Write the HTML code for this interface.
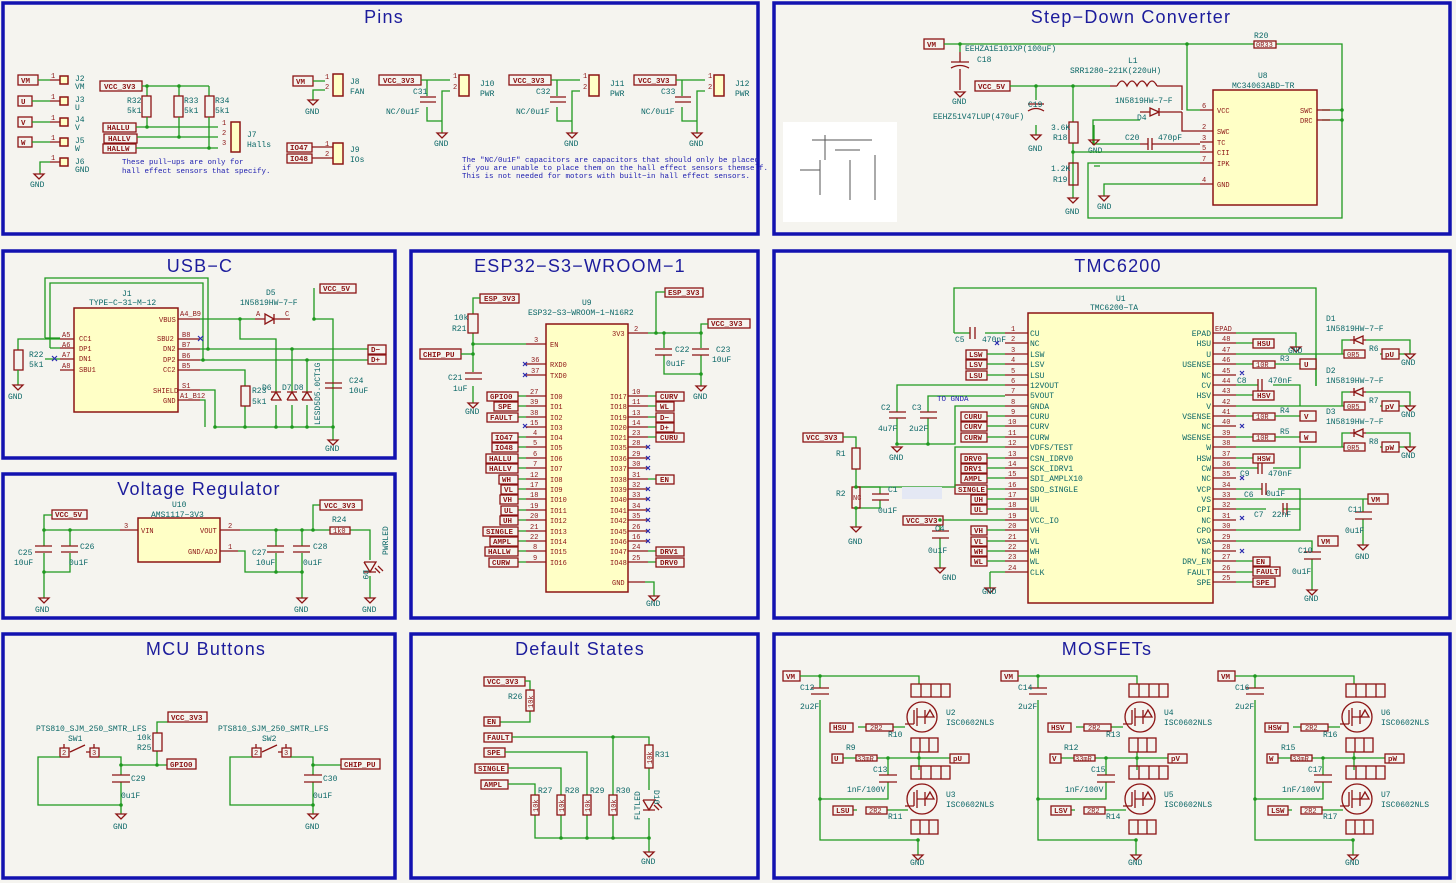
<!DOCTYPE html>
<html><head><meta charset="utf-8"><style>
html,body{margin:0;padding:0;background:#fff}
svg{display:block}
.w{stroke:#1f991f;stroke-width:1.3;fill:none}
.r{stroke:#8c1414;stroke-width:1.3;fill:none}
.y{fill:#ffffc6;stroke:#8c1414;stroke-width:1.5}
.gl{fill:#f5f4ef;stroke:#8c1414;stroke-width:1.3}
.t{fill:#0b6767;font-family:"Liberation Mono",monospace;font-size:8px}
.n{fill:#8c1414;font-family:"Liberation Mono",monospace;font-size:7px}
.l{fill:#8c1414;font-family:"Liberation Mono",monospace;font-size:7.5px;font-weight:bold}
.b{fill:#2020b0;font-family:"Liberation Mono",monospace;font-size:7.5px}
.tt{fill:#1c1c9c;font-family:"Liberation Sans",sans-serif;font-size:18px;letter-spacing:1.2px;text-anchor:middle}
.pn{fill:none;stroke:#1212b0;stroke-width:3.5}
.x{stroke:#2a2ab0;stroke-width:1.2}
.d{fill:#1f991f}
</style></head><body>
<svg width="1456" height="883" viewBox="0 0 1456 883" xmlns="http://www.w3.org/2000/svg">
<rect width="1456" height="883" fill="#f5f4ef"/>
<rect class="pn" x="3" y="3" width="755" height="231"/>
<rect class="pn" x="774" y="3" width="676" height="231"/>
<rect class="pn" x="3" y="251" width="392" height="207"/>
<rect class="pn" x="411" y="251" width="347" height="367"/>
<rect class="pn" x="774" y="251" width="676" height="367"/>
<rect class="pn" x="3" y="474" width="392" height="144"/>
<rect class="pn" x="3" y="634" width="392" height="244"/>
<rect class="pn" x="411" y="634" width="347" height="244"/>
<rect class="pn" x="774" y="634" width="676" height="244"/>
<text class="tt" x="384" y="23">Pins</text>
<text class="tt" x="1131" y="23">Step−Down Converter</text>
<text class="tt" x="200" y="272">USB−C</text>
<text class="tt" x="580" y="272">ESP32−S3−WROOM−1</text>
<text class="tt" x="1118" y="272">TMC6200</text>
<text class="tt" x="199" y="495">Voltage Regulator</text>
<text class="tt" x="206" y="655">MCU Buttons</text>
<text class="tt" x="580" y="655">Default States</text>
<text class="tt" x="1107" y="655">MOSFETs</text>

<g>
<rect class="gl" x="18" y="75" width="20" height="10"/><text class="l" x="21" y="83">VM</text>
<rect class="gl" x="18" y="96" width="14" height="10"/><text class="l" x="21" y="104">U</text>
<rect class="gl" x="18" y="117" width="14" height="10"/><text class="l" x="21" y="125">V</text>
<rect class="gl" x="18" y="137" width="14" height="10"/><text class="l" x="21" y="145">W</text>
<path class="w" d="M38 80H50M32 101H50M32 122H50M32 142H50M40 174V162H50"/>
<path class="r" d="M50 80H60M50 101H60M50 122H60M50 142H60M50 162H60"/>
<rect class="y" x="60" y="76" width="8" height="8"/><rect class="y" x="60" y="97" width="8" height="8"/><rect class="y" x="60" y="118" width="8" height="8"/><rect class="y" x="60" y="138" width="8" height="8"/><rect class="y" x="60" y="158" width="8" height="8"/>
<text class="n" x="51" y="78">1</text><text class="n" x="51" y="99">1</text><text class="n" x="51" y="120">1</text><text class="n" x="51" y="140">1</text><text class="n" x="51" y="160">1</text>
<text class="t" x="75" y="81">J2</text><text class="t" x="75" y="89">VM</text>
<text class="t" x="75" y="102">J3</text><text class="t" x="75" y="110">U</text>
<text class="t" x="75" y="122">J4</text><text class="t" x="75" y="130">V</text>
<text class="t" x="75" y="143">J5</text><text class="t" x="75" y="151">W</text>
<text class="t" x="75" y="164">J6</text><text class="t" x="75" y="172">GND</text>
<path class="r" d="M34 174h10l-5 5z"/><text class="t" x="30" y="187">GND</text>
<rect class="gl" x="100" y="81" width="42" height="10"/><text class="l" x="104" y="89">VCC_3V3</text>
<path class="w" d="M142 86H209M147 86V96M179 86V96M209 86V96"/>
<rect class="r" x="142" y="96" width="9" height="21"/><rect class="r" x="174" y="96" width="9" height="21"/><rect class="r" x="205" y="96" width="9" height="21"/>
<text class="t" x="127" y="103">R32</text><text class="t" x="127" y="113">5k1</text>
<text class="t" x="184" y="103">R33</text><text class="t" x="184" y="113">5k1</text>
<text class="t" x="215" y="103">R34</text><text class="t" x="215" y="113">5k1</text>
<rect class="gl" x="103" y="123" width="33" height="9"/><text class="l" x="107" y="130">HALLU</text>
<rect class="gl" x="104" y="134" width="33" height="9"/><text class="l" x="108" y="141">HALLV</text>
<rect class="gl" x="103" y="144" width="33" height="9"/><text class="l" x="107" y="151">HALLW</text>
<path class="w" d="M136 127H218M137 137H218M136 148H218M147 117V127M179 117V137M209 117V148"/>
<circle class="d" cx="147" cy="127" r="1.8"/><circle class="d" cx="179" cy="137" r="1.8"/><circle class="d" cx="209" cy="148" r="1.8"/>
<circle class="d" cx="147" cy="86" r="1.8"/><circle class="d" cx="179" cy="86" r="1.8"/>
<rect class="y" x="231" y="122" width="9" height="30"/>
<text class="n" x="222" y="125">1</text><text class="n" x="222" y="135">2</text><text class="n" x="222" y="145">3</text>
<text class="t" x="247" y="137">J7</text><text class="t" x="247" y="147">Halls</text>
<text class="b" x="122" y="164">These pull−ups are only for</text>
<text class="b" x="122" y="173">hall effect sensors that specify.</text>
<rect class="gl" x="293" y="76" width="20" height="10"/><text class="l" x="296" y="84">VM</text>
<path class="w" d="M313 81H325M313 100V90H325"/><path class="r" d="M308 100h10l-5 5z"/><text class="t" x="305" y="114">GND</text>
<rect class="y" x="333" y="74" width="10" height="22"/><text class="n" x="325" y="79">1</text><text class="n" x="325" y="89">2</text>
<text class="t" x="350" y="84">J8</text><text class="t" x="350" y="94">FAN</text>
<rect class="gl" x="287" y="143" width="25" height="9"/><text class="l" x="290" y="150">IO47</text>
<rect class="gl" x="287" y="154" width="25" height="9"/><text class="l" x="290" y="161">IO48</text>
<path class="r" d="M312 147H333M312 158H333"/><rect class="y" x="333" y="143" width="10" height="21"/>
<text class="n" x="325" y="146">1</text><text class="n" x="325" y="156">2</text>
<text class="t" x="350" y="152">J9</text><text class="t" x="350" y="162">IOs</text>
<g>
<rect class="gl" x="379" y="75" width="42" height="10"/><text class="l" x="383" y="83">VCC_3V3</text>
<path class="w" d="M421 80H450M427 80V96M427 107V121H442V91H450M442 121V133"/>
<path class="r" d="M420 97h16M420 102h16"/><path class="r" d="M437 133h10l-5 5z"/><text class="t" x="434" y="146">GND</text>
<rect class="y" x="459" y="75" width="10" height="21"/><text class="n" x="453" y="78">1</text><text class="n" x="453" y="89">2</text>
<text class="t" x="413" y="94">C31</text><text class="t" x="386" y="114">NC/0u1F</text>
<text class="t" x="480" y="86">J10</text><text class="t" x="480" y="96">PWR</text>
</g>
<g transform="translate(130,0)">
<rect class="gl" x="379" y="75" width="42" height="10"/><text class="l" x="383" y="83">VCC_3V3</text>
<path class="w" d="M421 80H450M427 80V96M427 107V121H442V91H450M442 121V133"/>
<path class="r" d="M420 97h16M420 102h16"/><path class="r" d="M437 133h10l-5 5z"/><text class="t" x="434" y="146">GND</text>
<rect class="y" x="459" y="75" width="10" height="21"/><text class="n" x="453" y="78">1</text><text class="n" x="453" y="89">2</text>
<text class="t" x="406" y="94">C32</text><text class="t" x="386" y="114">NC/0u1F</text>
<text class="t" x="480" y="86">J11</text><text class="t" x="480" y="96">PWR</text>
</g>
<g transform="translate(255,0)">
<rect class="gl" x="379" y="75" width="42" height="10"/><text class="l" x="383" y="83">VCC_3V3</text>
<path class="w" d="M421 80H450M427 80V96M427 107V121H442V91H450M442 121V133"/>
<path class="r" d="M420 97h16M420 102h16"/><path class="r" d="M437 133h10l-5 5z"/><text class="t" x="434" y="146">GND</text>
<rect class="y" x="459" y="75" width="10" height="21"/><text class="n" x="453" y="78">1</text><text class="n" x="453" y="89">2</text>
<text class="t" x="406" y="94">C33</text><text class="t" x="386" y="114">NC/0u1F</text>
<text class="t" x="480" y="86">J12</text><text class="t" x="480" y="96">PWR</text>
</g>
<text class="b" x="462" y="162">The "NC/0u1F" capacitors are capacitors that should only be placed</text>
<text class="b" x="462" y="170">if you are unable to place them on the hall effect sensors themself.</text>
<text class="b" x="462" y="178">This is not needed for motors with built−in hall effect sensors.</text>
</g>

<g>
<rect class="gl" x="924" y="39" width="20" height="10"/><text class="l" x="927" y="47">VM</text>
<path class="w" d="M944 44H1254M1276 44H1342V218H1088V163H1200M960 44V52M1187 44V110H1200M1342 110H1322M1342 120H1322"/>
<rect class="r" x="1254" y="41" width="22" height="7"/><text class="t" x="1254" y="38">R20</text><text class="n" x="1256" y="47">0R33</text>
<path class="r" d="M951 62h18M951 68q9 -5 18 0M960 52V62M960 69V90"/><path class="r" d="M955 92h10l-5 5z"/>
<text class="t" x="965" y="51">EEHZA1E101XP(100uF)</text><text class="t" x="977" y="62">C18</text><text class="t" x="952" y="104">GND</text>
<rect class="gl" x="975" y="81" width="35" height="10"/><text class="l" x="978" y="89">VCC_5V</text>
<path class="w" d="M1010 86H1110M1036 86V100M1073 86V122M1073 143V163M1073 163V185M1073 185V198M1036 125V135"/>
<path class="r" d="M1110 86H1117M1117 86q5 -10 10 0q5 -10 10 0q5 -10 10 0q5 -10 10 0M1157 86H1182V110"/>
<text class="t" x="1128" y="63">L1</text><text class="t" x="1070" y="73">SRR1280−221K(220uH)</text>
<path class="r" d="M1028 104h16M1028 111q8 -5 16 0"/><text class="t" x="1028" y="107">C19</text><text class="t" x="933" y="119">EEHZ51V47LUP(470uF)</text>
<path class="r" d="M1031 135h10l-5 5z"/><text class="t" x="1028" y="151">GND</text>
<rect class="r" x="1069" y="122" width="9" height="21"/><rect class="r" x="1069" y="163" width="9" height="22"/>
<text class="t" x="1051" y="130">3.6K</text><text class="t" x="1053" y="140">R18</text><text class="t" x="1051" y="171">1.2K</text><text class="t" x="1053" y="182">R19</text>
<path class="r" d="M1068 198h10l-5 5z"/><text class="t" x="1065" y="214">GND</text>
<path class="w" d="M1094 135V144H1140M1094 166H1100M1094 135V132M1094 125V132"/>
<path class="w" d="M1093 145V120H1140M1093 166"/>
<path class="r" d="M1140 112H1150M1150 108v8l9 -4zM1159 108v8M1159 112H1182M1182 112V131H1200M1140 144H1148M1148 138v12M1152 138v12M1152 144H1200M1200 142"/>
<text class="t" x="1115" y="103">1N5819HW−7−F</text><text class="t" x="1137" y="120">D4</text>
<text class="t" x="1125" y="140">C20</text><text class="t" x="1158" y="140">470pF</text>
<path class="r" d="M1089 140h10l-5 5z"/><text class="t" x="1088" y="153">GND</text>
<path class="w" d="M1073 152H1200M1104 196V184H1200"/>
<path class="r" d="M1099 196h10l-5 5z"/><text class="t" x="1097" y="209">GND</text>
<rect class="y" x="1213" y="90" width="104" height="115"/>
<text class="t" x="1258" y="78">U8</text><text class="t" x="1232" y="88">MC34063ABD−TR</text>
<path class="r" d="M1200 110H1213M1200 131H1213M1200 142H1213M1200 152H1213M1200 163H1213M1200 184H1213M1317 110H1330M1317 120H1330"/>
<text class="n" x="1202" y="108">6</text><text class="n" x="1202" y="129">2</text><text class="n" x="1202" y="140">3</text><text class="n" x="1202" y="150">5</text><text class="n" x="1202" y="161">7</text><text class="n" x="1202" y="182">4</text>
<text class="n" x="1217" y="113">VCC</text><text class="n" x="1217" y="134">SWC</text><text class="n" x="1217" y="145">TC</text><text class="n" x="1217" y="155">CII</text><text class="n" x="1217" y="166">IPK</text><text class="n" x="1217" y="187">GND</text>
<text class="n" x="1300" y="113">SWC</text><text class="n" x="1300" y="123">DRC</text>
<circle class="d" cx="960" cy="44" r="1.8"/><circle class="d" cx="1187" cy="44" r="1.8"/><circle class="d" cx="1036" cy="86" r="1.8"/><circle class="d" cx="1073" cy="86" r="1.8"/><circle class="d" cx="1073" cy="152" r="1.8"/><circle class="d" cx="1342" cy="110" r="1.8"/><circle class="d" cx="1342" cy="120" r="1.8"/>
<rect x="783" y="122" width="114" height="100" fill="#fff"/>
<path d="M825 135V160M820 160V195M835 150H860M850 160V200M800 170h20M875 155V200M812 140h60" stroke="#555" stroke-width="1" fill="none"/>
</g>

<g>
<rect class="y" x="74" y="308" width="104" height="104"/>
<text class="t" x="122" y="296">J1</text><text class="t" x="89" y="305">TYPE−C−31−M−12</text>
<path class="w" d="M45 338V278H208V349M50 348V283H203V360M45 338H60M50 348H60M45 359H60"/>
<path class="w" d="M18 350V339H60"/>
<path class="r" d="M60 339H74M60 348H74M60 359H74M60 370H74M178 319H200M178 339H200M178 349H200M178 360H200M178 370H200M178 390H200M178 400H200"/>
<text class="n" x="62" y="337">A5</text><text class="n" x="62" y="347">A6</text><text class="n" x="62" y="357">A7</text><text class="n" x="62" y="368">A8</text>
<text class="n" x="79" y="341">CC1</text><text class="n" x="79" y="351">DP1</text><text class="n" x="79" y="361">DN1</text><text class="n" x="79" y="372">SBU1</text>
<text class="n" x="159" y="322">VBUS</text><text class="n" x="157" y="341">SBU2</text><text class="n" x="163" y="351">DN2</text><text class="n" x="163" y="362">DP2</text><text class="n" x="163" y="372">CC2</text><text class="n" x="153" y="393">SHIELD</text><text class="n" x="163" y="403">GND</text>
<text class="n" x="180" y="316">A4_B9</text><text class="n" x="182" y="337">B8</text><text class="n" x="182" y="347">B7</text><text class="n" x="182" y="358">B6</text><text class="n" x="182" y="368">B5</text><text class="n" x="182" y="388">S1</text><text class="n" x="180" y="398">A1_B12</text>
<path class="x" d="M198 336l5 5M203 336l-5 5M52 356l5 5M57 356l-5 5"/>
<rect class="r" x="14" y="350" width="9" height="20"/><text class="t" x="29" y="357">R22</text><text class="t" x="29" y="367">5k1</text>
<path class="w" d="M18 370V385"/><path class="r" d="M13 385h10l-5 5z"/><text class="t" x="8" y="399">GND</text>
<path class="w" d="M200 319H255M240 319V339H276V392M200 349H368M200 360H368M200 370H245V386M200 390H215V427H333V332M200 400H205V427M292 349V392M307 360V392M276 405V427M292 405V427M307 405V427M245 406V427M314 288V319H333V380M333 387V427M333 427V440"/>
<path class="r" d="M255 319H265M265 314v10l9 -5zM274 314v10M274 319H290"/>
<text class="t" x="266" y="295">D5</text><text class="t" x="240" y="305">1N5819HW−7−F</text><text class="n" x="256" y="316">A</text><text class="n" x="285" y="316">C</text>
<rect class="gl" x="320" y="284" width="36" height="9"/><text class="l" x="323" y="291">VCC_5V</text>
<rect class="gl" x="368" y="345" width="18" height="9"/><text class="l" x="371" y="352">D−</text>
<rect class="gl" x="368" y="355" width="18" height="9"/><text class="l" x="371" y="362">D+</text>
<rect class="r" x="241" y="386" width="9" height="20"/><text class="t" x="252" y="393">R23</text><text class="t" x="252" y="404">5k1</text>
<path class="r" d="M271 392h10M271 400h10l-5 -8-5 8M287 392h10M287 400h10l-5 -8-5 8M302 392h10M302 400h10l-5 -8-5 8"/>
<text class="t" x="262" y="390">D6</text><text class="t" x="282" y="390">D7</text><text class="t" x="294" y="390">D8</text>
<text class="t" transform="translate(320,425) rotate(-90)" x="0" y="0">LESD5D5.0CT1G</text>
<path class="r" d="M325 383h17M325 388h17"/><text class="t" x="349" y="383">C24</text><text class="t" x="349" y="393">10uF</text>
<path class="r" d="M328 440h10l-5 5z"/><text class="t" x="325" y="451">GND</text>
<circle class="d" cx="240" cy="319" r="1.8"/><circle class="d" cx="314" cy="319" r="1.8"/><circle class="d" cx="208" cy="349" r="1.8"/><circle class="d" cx="203" cy="360" r="1.8"/><circle class="d" cx="292" cy="349" r="1.8"/><circle class="d" cx="307" cy="360" r="1.8"/><circle class="d" cx="215" cy="427" r="1.8"/><circle class="d" cx="245" cy="427" r="1.8"/><circle class="d" cx="276" cy="427" r="1.8"/><circle class="d" cx="292" cy="427" r="1.8"/><circle class="d" cx="307" cy="427" r="1.8"/><circle class="d" cx="333" cy="427" r="1.8"/>
</g>

<g>
<rect class="gl" x="52" y="510" width="35" height="9"/><text class="l" x="55" y="517">VCC_5V</text>
<rect class="y" x="138" y="518" width="82" height="44"/>
<text class="t" x="172" y="507">U10</text><text class="t" x="151" y="517">AMS1117−3V3</text>
<path class="w" d="M52 515H44V530H120M44 530V546M44 553V572H70V553M70 530V546M44 572V598M240 530H312M238 551H245V572H302V553M276 530V546M276 553V572M302 530V546M302 553V598M313 530V505H320M313 530H330M350 530H370V560M370 576V598"/>
<path class="r" d="M120 530H138M220 530H240M220 551H238"/>
<text class="n" x="124" y="528">3</text><text class="n" x="228" y="528">2</text><text class="n" x="228" y="549">1</text>
<text class="n" x="141" y="533">VIN</text><text class="n" x="200" y="533">VOUT</text><text class="n" x="188" y="554">GND/ADJ</text>
<path class="r" d="M35 546h17M35 552h17M61 546h17M61 552h17M267 546h17M267 552h17M293 546h17M293 552h17"/>
<text class="t" x="18" y="555">C25</text><text class="t" x="14" y="565">10uF</text><text class="t" x="80" y="549">C26</text><text class="t" x="69" y="565">0u1F</text>
<text class="t" x="252" y="555">C27</text><text class="t" x="256" y="565">10uF</text><text class="t" x="313" y="549">C28</text><text class="t" x="303" y="565">0u1F</text>
<rect class="gl" x="320" y="500" width="42" height="10"/><text class="l" x="324" y="508">VCC_3V3</text>
<rect class="r" x="330" y="527" width="20" height="7"/><text class="t" x="332" y="522">R24</text><text class="n" x="333" y="533">1k0</text>
<path class="r" d="M364 562h12l-6 10-6-10M364 572h12M375 568l5 5M378 566l5 5"/>
<text class="t" transform="translate(388,555) rotate(-90)">PWRLED</text><text class="t" transform="translate(363,570) rotate(90)">D9</text>
<path class="r" d="M39 598h10l-5 5z"/><text class="t" x="35" y="612">GND</text>
<path class="r" d="M297 598h10l-5 5z"/><text class="t" x="294" y="612">GND</text>
<path class="r" d="M365 598h10l-5 5z"/><text class="t" x="362" y="612">GND</text>
<circle class="d" cx="44" cy="530" r="1.8"/><circle class="d" cx="70" cy="530" r="1.8"/><circle class="d" cx="44" cy="572" r="1.8"/><circle class="d" cx="276" cy="530" r="1.8"/><circle class="d" cx="302" cy="530" r="1.8"/><circle class="d" cx="313" cy="530" r="1.8"/><circle class="d" cx="276" cy="572" r="1.8"/><circle class="d" cx="302" cy="572" r="1.8"/>
</g>

<g>
<rect class="y" x="546" y="324" width="82" height="268"/>
<text class="t" x="582" y="305">U9</text><text class="t" x="528" y="315">ESP32−S3−WROOM−1−N16R2</text>
<rect class="gl" x="480" y="294" width="39" height="9"/><text class="l" x="484" y="301">ESP_3V3</text>
<path class="w" d="M480 298H473V314M473 333V344H526M473 344V372M473 386V403"/>
<rect class="r" x="468" y="314" width="10" height="19"/><text class="t" x="454" y="320">10k</text><text class="t" x="452" y="331">R21</text>
<rect class="gl" x="420" y="349" width="41" height="10"/><text class="l" x="423" y="357">CHIP_PU</text>
<path class="w" d="M461 354H473"/>
<path class="r" d="M465 373h17M465 379h17"/><text class="t" x="448" y="380">C21</text><text class="t" x="453" y="391">1uF</text>
<path class="r" d="M468 403h10l-5 5z"/><text class="t" x="465" y="414">GND</text>
<path class="r" d="M526 344H546M526 364H546M526 375H546"/>
<text class="n" x="534" y="342">3</text><text class="n" x="531" y="362">36</text><text class="n" x="531" y="373">37</text>
<text class="n" x="550" y="347">EN</text><text class="n" x="550" y="367">RXD0</text><text class="n" x="550" y="378">TXD0</text>
<path class="x" d="M523 362l4 4M527 362l-4 4M523 373l4 4M527 373l-4 4M523 424l4 4M527 424l-4 4"/>
<path class="w" d="M518 396H526M518 406H526M518 417H526M518 437H526M518 447H526M518 458H526M518 468H526M518 479H526M518 489H526M518 499H526M518 510H526M518 520H526M518 531H526M518 541H526M518 551H526M518 562H526"/>
<path class="r" d="M526 396H546M526 406H546M526 417H546M526 427H546M526 437H546M526 447H546M526 458H546M526 468H546M526 479H546M526 489H546M526 499H546M526 510H546M526 520H546M526 531H546M526 541H546M526 551H546M526 562H546"/>
<rect class="gl" x="487" y="392" width="31" height="9"/><text class="l" x="490" y="399">GPIO0</text>
<rect class="gl" x="494" y="402" width="24" height="9"/><text class="l" x="498" y="409">SPE</text>
<rect class="gl" x="487" y="413" width="31" height="9"/><text class="l" x="490" y="420">FAULT</text>
<rect class="gl" x="492" y="433" width="26" height="9"/><text class="l" x="495" y="440">IO47</text>
<rect class="gl" x="492" y="443" width="26" height="9"/><text class="l" x="495" y="450">IO48</text>
<rect class="gl" x="486" y="454" width="32" height="9"/><text class="l" x="489" y="461">HALLU</text>
<rect class="gl" x="486" y="464" width="32" height="9"/><text class="l" x="489" y="471">HALLV</text>
<rect class="gl" x="499" y="475" width="19" height="9"/><text class="l" x="502" y="482">WH</text>
<rect class="gl" x="501" y="485" width="17" height="9"/><text class="l" x="504" y="492">VL</text>
<rect class="gl" x="500" y="495" width="18" height="9"/><text class="l" x="503" y="502">VH</text>
<rect class="gl" x="501" y="506" width="17" height="9"/><text class="l" x="504" y="513">UL</text>
<rect class="gl" x="500" y="516" width="18" height="9"/><text class="l" x="503" y="523">UH</text>
<rect class="gl" x="483" y="527" width="35" height="9"/><text class="l" x="486" y="534">SINGLE</text>
<rect class="gl" x="490" y="537" width="28" height="9"/><text class="l" x="493" y="544">AMPL</text>
<rect class="gl" x="485" y="547" width="33" height="9"/><text class="l" x="488" y="554">HALLW</text>
<rect class="gl" x="489" y="558" width="29" height="9"/><text class="l" x="492" y="565">CURW</text>
<g class="n">
<text x="530" y="394">27</text><text x="530" y="404">39</text><text x="530" y="415">38</text><text x="530" y="425">15</text><text x="533" y="435">4</text><text x="533" y="445">5</text><text x="533" y="456">6</text><text x="533" y="466">7</text><text x="530" y="477">12</text><text x="530" y="487">17</text><text x="530" y="497">18</text><text x="530" y="508">19</text><text x="530" y="518">20</text><text x="530" y="529">21</text><text x="530" y="539">22</text><text x="533" y="549">8</text><text x="533" y="560">9</text>
</g>
<g class="n" font-size="6">
<text x="550" y="399">IO0</text><text x="550" y="409">IO1</text><text x="550" y="420">IO2</text><text x="550" y="430">IO3</text><text x="550" y="440">IO4</text><text x="550" y="450">IO5</text><text x="550" y="461">IO6</text><text x="550" y="471">IO7</text><text x="550" y="482">IO8</text><text x="550" y="492">IO9</text><text x="550" y="502">IO10</text><text x="550" y="513">IO11</text><text x="550" y="523">IO12</text><text x="550" y="534">IO13</text><text x="550" y="544">IO14</text><text x="550" y="554">IO15</text><text x="550" y="565">IO16</text>
<text x="610" y="399">IO17</text><text x="610" y="409">IO18</text><text x="610" y="420">IO19</text><text x="610" y="430">IO20</text><text x="610" y="440">IO21</text><text x="610" y="450">IO35</text><text x="610" y="461">IO36</text><text x="610" y="471">IO37</text><text x="610" y="482">IO38</text><text x="610" y="492">IO39</text><text x="610" y="502">IO40</text><text x="610" y="513">IO41</text><text x="610" y="523">IO42</text><text x="610" y="534">IO45</text><text x="610" y="544">IO46</text><text x="610" y="554">IO47</text><text x="610" y="565">IO48</text>
<text x="612" y="336">3V3</text><text x="612" y="585">GND</text>
</g>
<path class="r" d="M628 396H648M628 406H648M628 417H648M628 427H648M628 437H648M628 447H648M628 458H648M628 468H648M628 479H648M628 489H648M628 499H648M628 510H648M628 520H648M628 531H648M628 541H648M628 551H648M628 562H648M628 333H648M628 582H645"/>
<path class="w" d="M648 396H656M648 406H656M648 417H656M648 427H656M648 437H656M648 479H656M648 551H656M648 562H656"/>
<g class="n">
<text x="632" y="394">10</text><text x="632" y="404">11</text><text x="632" y="415">13</text><text x="632" y="425">14</text><text x="632" y="435">23</text><text x="632" y="445">28</text><text x="632" y="456">29</text><text x="632" y="466">30</text><text x="632" y="477">31</text><text x="632" y="487">32</text><text x="632" y="497">33</text><text x="632" y="508">34</text><text x="632" y="518">35</text><text x="632" y="529">26</text><text x="632" y="539">16</text><text x="632" y="549">24</text><text x="632" y="560">25</text><text x="634" y="331">2</text>
</g>
<path class="x" d="M646 445l4 4M650 445l-4 4M646 456l4 4M650 456l-4 4M646 466l4 4M650 466l-4 4M646 487l4 4M650 487l-4 4M646 497l4 4M650 497l-4 4M646 508l4 4M650 508l-4 4M646 518l4 4M650 518l-4 4M646 529l4 4M650 529l-4 4M646 539l4 4M650 539l-4 4"/>
<rect class="gl" x="656" y="392" width="28" height="9"/><text class="l" x="660" y="399">CURV</text>
<rect class="gl" x="656" y="402" width="18" height="9"/><text class="l" x="660" y="409">WL</text>
<rect class="gl" x="656" y="413" width="18" height="9"/><text class="l" x="660" y="420">D−</text>
<rect class="gl" x="656" y="423" width="18" height="9"/><text class="l" x="660" y="430">D+</text>
<rect class="gl" x="656" y="433" width="28" height="9"/><text class="l" x="660" y="440">CURU</text>
<rect class="gl" x="656" y="475" width="18" height="9"/><text class="l" x="660" y="482">EN</text>
<rect class="gl" x="656" y="547" width="28" height="9"/><text class="l" x="660" y="554">DRV1</text>
<rect class="gl" x="656" y="558" width="28" height="9"/><text class="l" x="660" y="565">DRV0</text>
<rect class="gl" x="665" y="288" width="38" height="9"/><text class="l" x="668" y="295">ESP_3V3</text>
<rect class="gl" x="708" y="319" width="42" height="9"/><text class="l" x="711" y="326">VCC_3V3</text>
<path class="w" d="M648 333H701M656 333V292H665M664 333V348M664 355V374H701V355M701 348V324H708M701 374V386M645 582H654V596"/>
<path class="r" d="M655 349h17M655 355h17M692 349h17M692 355h17"/>
<text class="t" x="675" y="352">C22</text><text class="t" x="666" y="366">0u1F</text><text class="t" x="716" y="352">C23</text><text class="t" x="712" y="362">10uF</text>
<path class="r" d="M696 386h10l-5 5z"/><text class="t" x="693" y="399">GND</text>
<path class="r" d="M649 596h10l-5 5z"/><text class="t" x="646" y="606">GND</text>
<circle class="d" cx="656" cy="333" r="1.8"/><circle class="d" cx="664" cy="333" r="1.8"/><circle class="d" cx="701" cy="333" r="1.8"/><circle class="d" cx="701" cy="374" r="1.8"/><circle class="d" cx="473" cy="344" r="1.8"/><circle class="d" cx="473" cy="354" r="1.8"/>
</g>

<g>
<rect class="y" x="1028" y="313" width="185" height="290"/>
<text class="t" x="1116" y="301">U1</text><text class="t" x="1090" y="310">TMC6200−TA</text>
<path class="w" d="M954 333V288H1316V386M954 333H970M985 333H1005"/>
<path class="r" d="M970 327v12M975 327v12"/><text class="t" x="955" y="342">C5</text><text class="t" x="982" y="342">470nF</text>
<path class="r" d="M1005 333H1028M1005 343H1028M1005 354H1028M1005 364H1028M1005 375H1028M1005 385H1028M1005 395H1028M1005 406H1028M1005 416H1028M1005 426H1028M1005 437H1028M1005 447H1028M1005 458H1028M1005 468H1028M1005 478H1028M1005 489H1028M1005 499H1028M1005 509H1028M1005 520H1028M1005 530H1028M1005 541H1028M1005 551H1028M1005 561H1028M1005 572H1028"/>
<path class="x" d="M995 341l4 4M999 341l-4 4"/>
<g class="n">
<text x="1011" y="331">1</text><text x="1011" y="341">2</text><text x="1011" y="352">3</text><text x="1011" y="362">4</text><text x="1011" y="373">5</text><text x="1011" y="383">6</text><text x="1011" y="393">7</text><text x="1011" y="404">8</text><text x="1011" y="414">9</text><text x="1008" y="424">10</text><text x="1008" y="435">11</text><text x="1008" y="445">12</text><text x="1008" y="456">13</text><text x="1008" y="466">14</text><text x="1008" y="476">15</text><text x="1008" y="487">16</text><text x="1008" y="497">17</text><text x="1008" y="507">18</text><text x="1008" y="518">19</text><text x="1008" y="528">20</text><text x="1008" y="539">21</text><text x="1008" y="549">22</text><text x="1008" y="559">23</text><text x="1008" y="570">24</text>
</g>
<g class="t" font-size="7.5">
<text x="1030" y="336">CU</text><text x="1030" y="346">NC</text><text x="1030" y="357">LSW</text><text x="1030" y="367">LSV</text><text x="1030" y="378">LSU</text><text x="1030" y="388">12VOUT</text><text x="1030" y="398">5VOUT</text><text x="1030" y="409">GNDA</text><text x="1030" y="419">CURU</text><text x="1030" y="429">CURV</text><text x="1030" y="440">CURW</text><text x="1030" y="450">VDFS/TEST</text><text x="1030" y="461">CSN_IDRV0</text><text x="1030" y="471">SCK_IDRV1</text><text x="1030" y="481">SDI_AMPLX10</text><text x="1030" y="492">SDO_SINGLE</text><text x="1030" y="502">UH</text><text x="1030" y="512">UL</text><text x="1030" y="523">VCC_IO</text><text x="1030" y="533">VH</text><text x="1030" y="544">VL</text><text x="1030" y="554">WH</text><text x="1030" y="564">WL</text><text x="1030" y="575">CLK</text>
</g>
<g class="t" font-size="7.5" text-anchor="end">
<text x="1211" y="336">EPAD</text><text x="1211" y="346">HSU</text><text x="1211" y="357">U</text><text x="1211" y="367">USENSE</text><text x="1211" y="378">NC</text><text x="1211" y="388">CV</text><text x="1211" y="398">HSV</text><text x="1211" y="409">V</text><text x="1211" y="419">VSENSE</text><text x="1211" y="429">NC</text><text x="1211" y="440">WSENSE</text><text x="1211" y="450">W</text><text x="1211" y="461">HSW</text><text x="1211" y="471">CW</text><text x="1211" y="481">NC</text><text x="1211" y="492">VCP</text><text x="1211" y="502">VS</text><text x="1211" y="512">CPI</text><text x="1211" y="523">NC</text><text x="1211" y="533">CPO</text><text x="1211" y="544">VSA</text><text x="1211" y="554">NC</text><text x="1211" y="564">DRV_EN</text><text x="1211" y="575">FAULT</text><text x="1211" y="585">SPE</text>
</g>
<path class="r" d="M1213 333H1236M1213 343H1236M1213 354H1236M1213 364H1236M1213 375H1236M1213 385H1236M1213 395H1236M1213 406H1236M1213 416H1236M1213 426H1236M1213 437H1236M1213 447H1236M1213 458H1236M1213 468H1236M1213 478H1236M1213 489H1236M1213 499H1236M1213 509H1236M1213 520H1236M1213 530H1236M1213 541H1236M1213 551H1236M1213 561H1236M1213 572H1236M1213 582H1236"/>
<g class="n">
<text x="1215" y="331">EPAD</text><text x="1222" y="341">48</text><text x="1222" y="352">47</text><text x="1222" y="362">46</text><text x="1222" y="373">45</text><text x="1222" y="383">44</text><text x="1222" y="393">43</text><text x="1222" y="404">42</text><text x="1222" y="414">41</text><text x="1222" y="424">40</text><text x="1222" y="435">39</text><text x="1222" y="445">38</text><text x="1222" y="456">37</text><text x="1222" y="466">36</text><text x="1222" y="476">35</text><text x="1222" y="487">34</text><text x="1222" y="497">33</text><text x="1222" y="507">32</text><text x="1222" y="518">31</text><text x="1222" y="528">30</text><text x="1222" y="539">29</text><text x="1222" y="549">28</text><text x="1222" y="559">27</text><text x="1222" y="570">26</text><text x="1222" y="580">25</text>
</g>
<path class="x" d="M1240 371l4 4M1244 371l-4 4M1240 424l4 4M1244 424l-4 4M1240 476l4 4M1244 476l-4 4M1240 516l4 4M1244 516l-4 4M1240 549l4 4M1244 549l-4 4"/>
<rect class="gl" x="966" y="350" width="21" height="9"/><text class="l" x="969" y="357">LSW</text>
<rect class="gl" x="966" y="360" width="21" height="9"/><text class="l" x="969" y="367">LSV</text>
<rect class="gl" x="966" y="371" width="21" height="9"/><text class="l" x="969" y="378">LSU</text>
<rect class="gl" x="961" y="412" width="26" height="9"/><text class="l" x="964" y="419">CURU</text>
<rect class="gl" x="961" y="422" width="26" height="9"/><text class="l" x="964" y="429">CURV</text>
<rect class="gl" x="961" y="433" width="26" height="9"/><text class="l" x="964" y="440">CURW</text>
<rect class="gl" x="961" y="454" width="26" height="9"/><text class="l" x="964" y="461">DRV0</text>
<rect class="gl" x="961" y="464" width="26" height="9"/><text class="l" x="964" y="471">DRV1</text>
<rect class="gl" x="961" y="474" width="26" height="9"/><text class="l" x="964" y="481">AMPL</text>
<rect class="gl" x="955" y="485" width="32" height="9"/><text class="l" x="958" y="492">SINGLE</text>
<rect class="gl" x="971" y="495" width="16" height="9"/><text class="l" x="974" y="502">UH</text>
<rect class="gl" x="971" y="505" width="16" height="9"/><text class="l" x="974" y="512">UL</text>
<rect class="gl" x="971" y="526" width="16" height="9"/><text class="l" x="974" y="533">VH</text>
<rect class="gl" x="971" y="537" width="16" height="9"/><text class="l" x="974" y="544">VL</text>
<rect class="gl" x="971" y="547" width="16" height="9"/><text class="l" x="974" y="554">WH</text>
<rect class="gl" x="971" y="557" width="16" height="9"/><text class="l" x="974" y="564">WL</text>
<path class="w" d="M987 354H1005M987 364H1005M987 375H1005M987 416H1005M987 426H1005M987 437H1005M987 458H1005M987 468H1005M987 478H1005M987 489H1005M987 499H1005M987 509H1005M987 530H1005M987 541H1005M987 551H1005M987 561H1005"/>
<path class="w" d="M1005 385H897V412M897 418V444H928V418M928 412V396H1005M1005 406H955V444H928M1005 447H955V487H855M990 572H1005M990 572V588M908 520H1005M940 520V531M940 538V568"/>
<path class="r" d="M889 412h17M889 418h17M920 412h17M920 418h17"/>
<text class="t" x="881" y="410">C2</text><text class="t" x="878" y="431">4u7F</text><text class="t" x="912" y="410">C3</text><text class="t" x="909" y="431">2u2F</text>
<text class="b" x="937" y="401">TO GNDA</text>
<path class="r" d="M892 447h10l-5 5z"/><text class="t" x="889" y="460">GND</text>
<rect class="gl" x="803" y="433" width="40" height="9"/><text class="l" x="806" y="440">VCC_3V3</text>
<path class="w" d="M843 437H856V448M856 469V487M856 508V527M856 487H880V494M880 500V508H856"/>
<rect class="r" x="852" y="448" width="8" height="21"/><rect class="r" x="852" y="487" width="8" height="21"/>
<text class="t" x="836" y="456">R1</text><text class="t" x="836" y="496">R2</text><text class="n" x="853" y="500" font-size="6">NC</text>
<path class="r" d="M872 494h17M872 500h17"/><text class="t" x="888" y="492">C1</text><text class="t" x="878" y="513">0u1F</text>
<rect x="902" y="487" width="40" height="12" fill="#e4e8f4"/>
<path class="r" d="M851 527h10l-5 5z"/><text class="t" x="848" y="544">GND</text>
<rect class="gl" x="903" y="516" width="40" height="9"/><text class="l" x="906" y="523">VCC_3V3</text>
<path class="r" d="M932 531h17M932 538h17"/><text class="t" x="935" y="531">C4</text><text class="t" x="928" y="553">0u1F</text>
<path class="r" d="M935 568h10l-5 5z"/><text class="t" x="942" y="580">GND</text>
<path class="r" d="M985 588h10l-5 5z"/><text class="t" x="982" y="594">GND</text>
<circle class="d" cx="856" cy="487" r="1.8"/><circle class="d" cx="856" cy="508" r="1.8"/><circle class="d" cx="940" cy="520" r="1.8"/><circle class="d" cx="897" cy="444" r="1.8"/><circle class="d" cx="928" cy="444" r="1.8"/>
<path class="w" d="M1236 333H1296V347M1236 354H1342M1316 354V386M1236 406H1342M1236 447H1342M1236 395H1253M1236 458H1253M1236 364H1253M1236 416H1253M1236 437H1253M1236 343H1253M1236 489H1262M1278 489H1300V509H1283M1266 509H1236M1236 530H1300V509M1236 499H1378M1363 499V512M1363 519V545M1236 541H1312V552M1312 559V590M1236 561H1253M1236 572H1253M1236 582H1253M1236 385H1258M1273 385H1300V406M1236 468H1258M1273 468H1300V447"/>
<path class="r" d="M1262 483v12M1266 483v12M1283 503v12M1287 503v12M1258 379v12M1262 379v12M1258 462v12M1262 462v12M1355 512h17M1355 519h17M1304 552h17M1304 559h17"/>
<text class="t" x="1244" y="497">C6</text><text class="t" x="1266" y="496">0u1F</text><text class="t" x="1254" y="517">C7</text><text class="t" x="1272" y="517">22nF</text>
<text class="t" x="1237" y="383">C8</text><text class="t" x="1268" y="383">470nF</text><text class="t" x="1240" y="476">C9</text><text class="t" x="1268" y="476">470nF</text>
<text class="t" x="1348" y="512">C11</text><text class="t" x="1345" y="533">0u1F</text><text class="t" x="1298" y="553">C10</text><text class="t" x="1292" y="574">0u1F</text>
<rect class="gl" x="1368" y="494" width="20" height="10"/><text class="l" x="1371" y="502">VM</text>
<rect class="gl" x="1318" y="536" width="20" height="10"/><text class="l" x="1321" y="544">VM</text>
<path class="r" d="M1291 347h10l-5 5z"/><text class="t" x="1288" y="353">GND</text>
<path class="r" d="M1358 545h10l-5 5z"/><text class="t" x="1355" y="559">GND</text>
<path class="r" d="M1307 590h10l-5 5z"/><text class="t" x="1304" y="601">GND</text>
<rect class="gl" x="1253" y="339" width="21" height="9"/><text class="l" x="1257" y="346">HSU</text>
<rect class="gl" x="1253" y="391" width="21" height="9"/><text class="l" x="1257" y="398">HSV</text>
<rect class="gl" x="1253" y="454" width="21" height="9"/><text class="l" x="1257" y="461">HSW</text>
<rect class="gl" x="1253" y="557" width="17" height="9"/><text class="l" x="1256" y="564">EN</text>
<rect class="gl" x="1253" y="567" width="27" height="9"/><text class="l" x="1256" y="574">FAULT</text>
<rect class="gl" x="1253" y="578" width="22" height="9"/><text class="l" x="1256" y="585">SPE</text>
<rect class="r" x="1253" y="361" width="22" height="7"/><text class="n" x="1256" y="367">10R</text>
<rect class="r" x="1253" y="413" width="22" height="7"/><text class="n" x="1256" y="419">10R</text>
<rect class="r" x="1253" y="434" width="22" height="7"/><text class="n" x="1256" y="440">10R</text>
<text class="t" x="1280" y="361">R3</text><text class="t" x="1280" y="413">R4</text><text class="t" x="1280" y="434">R5</text>
<path class="w" d="M1275 364H1300M1275 416H1300M1275 437H1300"/>
<rect class="gl" x="1300" y="359" width="16" height="10"/><text class="l" x="1304" y="367">U</text>
<rect class="gl" x="1300" y="411" width="16" height="10"/><text class="l" x="1304" y="419">V</text>
<rect class="gl" x="1300" y="432" width="16" height="10"/><text class="l" x="1304" y="440">W</text>
<g>
<path class="w" d="M1342 354V340H1350M1366 340H1410V354M1342 354H1344M1380 354H1410"/>
<path class="r" d="M1350 340h4M1354 336v8M1354 340l9 -4v8zM1363 340h3"/>
<rect class="r" x="1344" y="350" width="21" height="8"/><text class="n" x="1347" y="357">0R5</text>
<rect class="gl" x="1382" y="349" width="17" height="10"/><text class="l" x="1385" y="357">pU</text>
<path class="r" d="M1405 354h10l-5 5z"/><text class="t" x="1401" y="365">GND</text>
<text class="t" x="1326" y="321">D1</text><text class="t" x="1326" y="331">1N5819HW−7−F</text><text class="t" x="1369" y="351">R6</text>
</g>
<g transform="translate(0,52)">
<path class="w" d="M1342 354V340H1350M1366 340H1410V354M1342 354H1344M1380 354H1410"/>
<path class="r" d="M1350 340h4M1354 336v8M1354 340l9 -4v8zM1363 340h3"/>
<rect class="r" x="1344" y="350" width="21" height="8"/><text class="n" x="1347" y="357">0R5</text>
<rect class="gl" x="1382" y="349" width="17" height="10"/><text class="l" x="1385" y="357">pV</text>
<path class="r" d="M1405 354h10l-5 5z"/><text class="t" x="1401" y="365">GND</text>
<text class="t" x="1326" y="321">D2</text><text class="t" x="1326" y="331">1N5819HW−7−F</text><text class="t" x="1369" y="351">R7</text>
</g>
<g transform="translate(0,93)">
<path class="w" d="M1342 354V340H1350M1366 340H1410V354M1342 354H1344M1380 354H1410"/>
<path class="r" d="M1350 340h4M1354 336v8M1354 340l9 -4v8zM1363 340h3"/>
<rect class="r" x="1344" y="350" width="21" height="8"/><text class="n" x="1347" y="357">0R5</text>
<rect class="gl" x="1382" y="349" width="17" height="10"/><text class="l" x="1385" y="357">pW</text>
<path class="r" d="M1405 354h10l-5 5z"/><text class="t" x="1401" y="365">GND</text>
<text class="t" x="1326" y="321">D3</text><text class="t" x="1326" y="331">1N5819HW−7−F</text><text class="t" x="1369" y="351">R8</text>
</g>
</g>

<g>
<rect class="gl" x="783" y="671" width="17" height="10"/><text class="l" x="786" y="679">VM</text>
<path class="w" d="M800 676H919V684M820 676V688M820 700V840H918V855M820 799H888V782M888 775V758M877 758H950M919 752V758V770M908 810H887M853 810H857M866 727H858M893 727H905M843 758H856"/>
<path class="r" d="M811 688h18M811 694h18M879 775h18M879 782h18"/>
<text class="t" x="800" y="690">C12</text><text class="t" x="800" y="709">2u2F</text>
<text class="t" x="873" y="772">C13</text><text class="t" x="847" y="792">1nF/100V</text>
<rect class="r" x="911" y="684" width="39" height="13"/><rect class="r" x="911" y="738" width="27" height="14"/>
<rect class="r" x="911" y="766" width="39" height="13"/><rect class="r" x="911" y="820" width="27" height="14"/>
<path class="r" d="M921 684v13M931 684v13M941 684v13M920 738v14M929 738v14M921 766v13M931 766v13M941 766v13M920 820v14M929 820v14"/>
<circle class="r" cx="922" cy="717" r="15"/><circle class="r" cx="922" cy="799" r="15"/>
<path class="r" d="M914 710v14M917 708v18M917 717h8M925 710v14M930 710l-4 7h8zM905 724h9M905 806h9M914 792v14M917 790v18M917 799h8M925 792v14M930 792l-4 7h8z"/>
<text class="t" x="946" y="715">U2</text><text class="t" x="946" y="725">ISC0602NLS</text>
<text class="t" x="946" y="797">U3</text><text class="t" x="946" y="807">ISC0602NLS</text>
<rect class="gl" x="830" y="723" width="23" height="9"/><text class="l" x="833" y="730">HSU</text>
<rect class="r" x="866" y="724" width="27" height="7"/><text class="n" x="870" y="730">2R2</text><text class="t" x="888" y="737">R10</text>
<rect class="gl" x="832" y="754" width="11" height="9"/><text class="l" x="834" y="761">U</text>
<rect class="r" x="856" y="755" width="21" height="6"/><text class="n" x="857" y="761" font-size="6">33mR</text><text class="t" x="846" y="750">R9</text>
<rect class="gl" x="950" y="754" width="19" height="9"/><text class="l" x="953" y="761">pU</text>
<rect class="gl" x="833" y="806" width="20" height="9"/><text class="l" x="836" y="813">LSU</text>
<rect class="r" x="866" y="807" width="21" height="7"/><text class="n" x="869" y="813">2R2</text><text class="t" x="888" y="819">R11</text>
<path class="r" d="M913 855h10l-5 5z"/><text class="t" x="910" y="865">GND</text>
<circle class="d" cx="820" cy="676" r="1.8"/><circle class="d" cx="888" cy="758" r="1.8"/><circle class="d" cx="919" cy="758" r="1.8"/><circle class="d" cx="820" cy="799" r="1.8"/><circle class="d" cx="918" cy="840" r="1.8"/>
</g>
<g transform="translate(218,0)">
<rect class="gl" x="783" y="671" width="17" height="10"/><text class="l" x="786" y="679">VM</text>
<path class="w" d="M800 676H919V684M820 676V688M820 700V840H918V855M820 799H888V782M888 775V758M877 758H950M919 752V758V770M908 810H887M853 810H857M866 727H858M893 727H905M843 758H856"/>
<path class="r" d="M811 688h18M811 694h18M879 775h18M879 782h18"/>
<text class="t" x="800" y="690">C14</text><text class="t" x="800" y="709">2u2F</text>
<text class="t" x="873" y="772">C15</text><text class="t" x="847" y="792">1nF/100V</text>
<rect class="r" x="911" y="684" width="39" height="13"/><rect class="r" x="911" y="738" width="27" height="14"/>
<rect class="r" x="911" y="766" width="39" height="13"/><rect class="r" x="911" y="820" width="27" height="14"/>
<path class="r" d="M921 684v13M931 684v13M941 684v13M920 738v14M929 738v14M921 766v13M931 766v13M941 766v13M920 820v14M929 820v14"/>
<circle class="r" cx="922" cy="717" r="15"/><circle class="r" cx="922" cy="799" r="15"/>
<path class="r" d="M914 710v14M917 708v18M917 717h8M925 710v14M930 710l-4 7h8zM905 724h9M905 806h9M914 792v14M917 790v18M917 799h8M925 792v14M930 792l-4 7h8z"/>
<text class="t" x="946" y="715">U4</text><text class="t" x="946" y="725">ISC0602NLS</text>
<text class="t" x="946" y="797">U5</text><text class="t" x="946" y="807">ISC0602NLS</text>
<rect class="gl" x="830" y="723" width="23" height="9"/><text class="l" x="833" y="730">HSV</text>
<rect class="r" x="866" y="724" width="27" height="7"/><text class="n" x="870" y="730">2R2</text><text class="t" x="888" y="737">R13</text>
<rect class="gl" x="832" y="754" width="11" height="9"/><text class="l" x="834" y="761">V</text>
<rect class="r" x="856" y="755" width="21" height="6"/><text class="n" x="857" y="761" font-size="6">33mR</text><text class="t" x="846" y="750">R12</text>
<rect class="gl" x="950" y="754" width="19" height="9"/><text class="l" x="953" y="761">pV</text>
<rect class="gl" x="833" y="806" width="20" height="9"/><text class="l" x="836" y="813">LSV</text>
<rect class="r" x="866" y="807" width="21" height="7"/><text class="n" x="869" y="813">2R2</text><text class="t" x="888" y="819">R14</text>
<path class="r" d="M913 855h10l-5 5z"/><text class="t" x="910" y="865">GND</text>
<circle class="d" cx="820" cy="676" r="1.8"/><circle class="d" cx="888" cy="758" r="1.8"/><circle class="d" cx="919" cy="758" r="1.8"/><circle class="d" cx="820" cy="799" r="1.8"/><circle class="d" cx="918" cy="840" r="1.8"/>
</g>
<g transform="translate(435,0)">
<rect class="gl" x="783" y="671" width="17" height="10"/><text class="l" x="786" y="679">VM</text>
<path class="w" d="M800 676H919V684M820 676V688M820 700V840H918V855M820 799H888V782M888 775V758M877 758H950M919 752V758V770M908 810H887M853 810H857M866 727H858M893 727H905M843 758H856"/>
<path class="r" d="M811 688h18M811 694h18M879 775h18M879 782h18"/>
<text class="t" x="800" y="690">C16</text><text class="t" x="800" y="709">2u2F</text>
<text class="t" x="873" y="772">C17</text><text class="t" x="847" y="792">1nF/100V</text>
<rect class="r" x="911" y="684" width="39" height="13"/><rect class="r" x="911" y="738" width="27" height="14"/>
<rect class="r" x="911" y="766" width="39" height="13"/><rect class="r" x="911" y="820" width="27" height="14"/>
<path class="r" d="M921 684v13M931 684v13M941 684v13M920 738v14M929 738v14M921 766v13M931 766v13M941 766v13M920 820v14M929 820v14"/>
<circle class="r" cx="922" cy="717" r="15"/><circle class="r" cx="922" cy="799" r="15"/>
<path class="r" d="M914 710v14M917 708v18M917 717h8M925 710v14M930 710l-4 7h8zM905 724h9M905 806h9M914 792v14M917 790v18M917 799h8M925 792v14M930 792l-4 7h8z"/>
<text class="t" x="946" y="715">U6</text><text class="t" x="946" y="725">ISC0602NLS</text>
<text class="t" x="946" y="797">U7</text><text class="t" x="946" y="807">ISC0602NLS</text>
<rect class="gl" x="830" y="723" width="23" height="9"/><text class="l" x="833" y="730">HSW</text>
<rect class="r" x="866" y="724" width="27" height="7"/><text class="n" x="870" y="730">2R2</text><text class="t" x="888" y="737">R16</text>
<rect class="gl" x="832" y="754" width="11" height="9"/><text class="l" x="834" y="761">W</text>
<rect class="r" x="856" y="755" width="21" height="6"/><text class="n" x="857" y="761" font-size="6">33mR</text><text class="t" x="846" y="750">R15</text>
<rect class="gl" x="950" y="754" width="19" height="9"/><text class="l" x="953" y="761">pW</text>
<rect class="gl" x="833" y="806" width="20" height="9"/><text class="l" x="836" y="813">LSW</text>
<rect class="r" x="866" y="807" width="21" height="7"/><text class="n" x="869" y="813">2R2</text><text class="t" x="888" y="819">R17</text>
<path class="r" d="M913 855h10l-5 5z"/><text class="t" x="910" y="865">GND</text>
<circle class="d" cx="820" cy="676" r="1.8"/><circle class="d" cx="888" cy="758" r="1.8"/><circle class="d" cx="919" cy="758" r="1.8"/><circle class="d" cx="820" cy="799" r="1.8"/><circle class="d" cx="918" cy="840" r="1.8"/>
</g>

<g>
<text class="t" x="36" y="731">PTS810_SJM_250_SMTR_LFS</text><text class="t" x="68" y="741">SW1</text>
<rect class="r" x="60" y="748" width="9" height="9"/><rect class="r" x="90" y="748" width="9" height="9"/>
<path class="r" d="M64 748v-4M94 748v-4M70 752l15 -7M86 752h4"/><text class="n" x="62" y="755">2</text><text class="n" x="92" y="755">3</text>
<path class="w" d="M60 757H38V805H121V814M99 757H121V775M121 782V805M121 765H157V751M157 733V722H168M157 765H167"/>
<path class="r" d="M112 775h18M112 782h18"/><text class="t" x="131" y="781">C29</text><text class="t" x="121" y="798">0u1F</text>
<rect class="r" x="153" y="733" width="9" height="18"/><text class="t" x="137" y="740">10k</text><text class="t" x="137" y="750">R25</text>
<rect class="gl" x="168" y="712" width="39" height="10"/><text class="l" x="171" y="720">VCC_3V3</text>
<rect class="gl" x="167" y="759" width="29" height="10"/><text class="l" x="170" y="767">GPIO0</text>
<path class="r" d="M116 814h10l-5 5z"/><text class="t" x="113" y="829">GND</text>
<circle class="d" cx="121" cy="765" r="1.8"/><circle class="d" cx="157" cy="765" r="1.8"/><circle class="d" cx="121" cy="805" r="1.8"/>
</g>
<g>
<text class="t" x="218" y="731">PTS810_SJM_250_SMTR_LFS</text><text class="t" x="262" y="741">SW2</text>
<rect class="r" x="252" y="748" width="9" height="9"/><rect class="r" x="282" y="748" width="9" height="9"/>
<path class="r" d="M256 748v-4M286 748v-4M262 752l15 -7M278 752h4"/><text class="n" x="254" y="755">2</text><text class="n" x="284" y="755">3</text>
<path class="w" d="M252 757H230V805H313V814M291 757H313V775M313 782V805M313 765H341"/>
<path class="r" d="M304 775h18M304 782h18"/><text class="t" x="323" y="781">C30</text><text class="t" x="313" y="798">0u1F</text>
<rect class="gl" x="341" y="759" width="39" height="10"/><text class="l" x="344" y="767">CHIP_PU</text>
<path class="r" d="M308 814h10l-5 5z"/><text class="t" x="305" y="829">GND</text>
<circle class="d" cx="313" cy="765" r="1.8"/><circle class="d" cx="313" cy="805" r="1.8"/>
</g>

<g>
<rect class="gl" x="484" y="677" width="41" height="9"/><text class="l" x="487" y="684">VCC_3V3</text>
<path class="w" d="M525 681H530V690M530 711V722H500"/>
<rect class="r" x="526" y="690" width="8" height="21"/><text class="t" x="508" y="699">R26</text><text class="n" transform="translate(533,708) rotate(-90)">10k</text>
<rect class="gl" x="484" y="717" width="16" height="9"/><text class="l" x="487" y="724">EN</text>
<rect class="gl" x="484" y="733" width="28" height="9"/><text class="l" x="487" y="740">FAULT</text>
<rect class="gl" x="484" y="748" width="21" height="9"/><text class="l" x="487" y="755">SPE</text>
<rect class="gl" x="475" y="764" width="33" height="9"/><text class="l" x="478" y="771">SINGLE</text>
<rect class="gl" x="481" y="780" width="27" height="9"/><text class="l" x="484" y="787">AMPL</text>
<path class="w" d="M512 737H649V745M505 752H587V795M508 768H561V795M508 784H535V795M613 737V795M535 815V838H649M561 815V838M587 815V838M613 815V838M649 768V790M649 818V838V852"/>
<rect class="r" x="531" y="795" width="8" height="20"/><rect class="r" x="557" y="795" width="8" height="20"/><rect class="r" x="583" y="795" width="8" height="20"/><rect class="r" x="609" y="795" width="8" height="20"/>
<text class="n" transform="translate(538,812) rotate(-90)">10k</text><text class="n" transform="translate(564,812) rotate(-90)">10k</text><text class="n" transform="translate(590,812) rotate(-90)">10k</text><text class="n" transform="translate(616,812) rotate(-90)">10k</text>
<text class="t" x="538" y="793">R27</text><text class="t" x="565" y="793">R28</text><text class="t" x="590" y="793">R29</text><text class="t" x="616" y="793">R30</text>
<rect class="r" x="645" y="745" width="8" height="23"/><text class="t" x="655" y="757">R31</text><text class="n" transform="translate(652,764) rotate(-90)">10k</text>
<path class="r" d="M643 800h12l-6 10-6-10M643 810h12M654 805l5 5M657 803l5 5"/>
<text class="t" transform="translate(640,820) rotate(-90)">FLTLED</text><text class="t" transform="translate(654,790) rotate(90)">D10</text>
<path class="r" d="M644 852h10l-5 5z"/><text class="t" x="641" y="864">GND</text>
<circle class="d" cx="613" cy="737" r="1.8"/><circle class="d" cx="561" cy="838" r="1.8"/><circle class="d" cx="587" cy="838" r="1.8"/><circle class="d" cx="613" cy="838" r="1.8"/><circle class="d" cx="649" cy="838" r="1.8"/>
</g>
</svg>
</body></html>
